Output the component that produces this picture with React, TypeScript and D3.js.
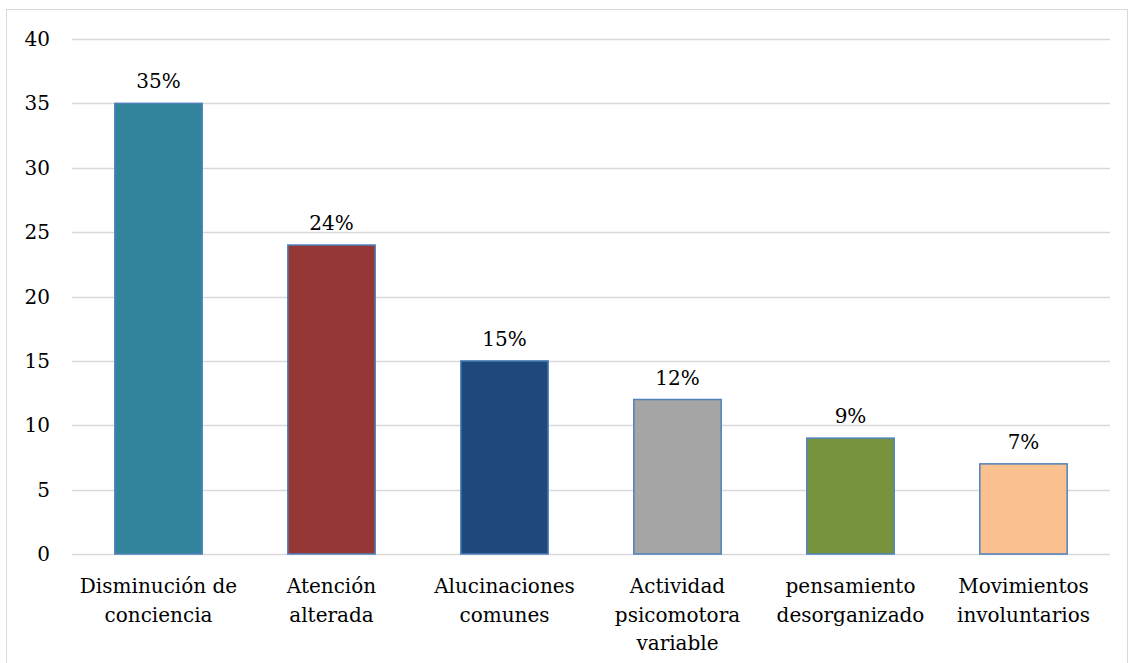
import React from "react";
import * as d3 from "d3";

// Symptom categories (line breaks mark how each axis label wraps)
const categories: string[] = [
  "Disminución de\nconciencia",
  "Atención\nalterada",
  "Alucinaciones\ncomunes",
  "Actividad\npsicomotora\nvariable",
  "pensamiento\ndesorganizado",
  "Movimientos\ninvoluntarios",
];
const values: number[] = [35, 24, 15, 12, 9, 7];
const barColors: string[] = ["#31849B", "#953735", "#1F497D", "#A5A5A5", "#77933C", "#FAC090"];
const yTicks: number[] = [0, 5, 10, 15, 20, 25, 30, 35, 40];

const W = 1134;
const H = 663;
const FONT = "'DejaVu Serif', serif";
const FS = 20;

export default function App() {
  const left = 72;
  const right = 1110;
  const top = 39;
  const bottom = 554;

  const x = d3.scaleBand<string>().domain(categories).range([left, right]).padding(0);
  const y = d3.scaleLinear().domain([0, 40]).range([bottom, top]);
  const barW = x.bandwidth() * 0.505;

  return (
    <svg
      width={W}
      height={H}
      style={{ position: "absolute", left: 0, top: 0, background: "#fff" }}
      fontFamily={FONT}
    >
      <rect x={6.5} y={9.5} width={W - 13} height={H} fill="#fff" stroke="#D9D9D9" strokeWidth={1} />

      {yTicks.map((t) => (
        <g key={t}>
          <line x1={left} x2={right} y1={Math.round(y(t)) + 0.5} y2={Math.round(y(t)) + 0.5} stroke="#D9D9D9" strokeWidth={1.3} />
          <text x={50} y={y(t)} dy="0.35em" textAnchor="end" fontSize={FS} fill="#000">
            {t}
          </text>
        </g>
      ))}

      {categories.map((c, i) => {
        const cx = (x(c) as number) + x.bandwidth() / 2;
        const v = values[i];
        return (
          <g key={c}>
            <rect
              x={cx - barW / 2}
              y={y(v)}
              width={barW}
              height={y(0) - y(v)}
              fill={barColors[i]}
              stroke="#4F81BD"
              strokeWidth={1.5}
            />
            <text x={cx} y={y(v) - 15} textAnchor="middle" fontSize={FS} fill="#000">
              {`${v}%`}
            </text>
            {c.split("\n").map((line, j) => (
              <text key={j} x={cx} y={593 + j * 28.5} textAnchor="middle" fontSize={FS} fill="#000">
                {line}
              </text>
            ))}
          </g>
        );
      })}
    </svg>
  );
}
